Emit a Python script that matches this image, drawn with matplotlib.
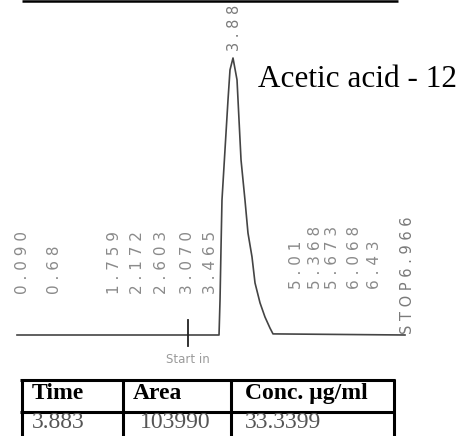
import matplotlib
matplotlib.use("Agg")
import matplotlib.pyplot as plt
import numpy as np

# chromatogram trace (time in min, detector response in % of main peak)
trace_time = [0.0, 3.627, 3.645, 3.662, 3.680, 3.734, 3.788, 3.824, 3.878,
              3.950, 3.986, 4.022, 4.093, 4.147, 4.219, 4.273, 4.363, 4.452,
              4.542, 4.596, 6.966]
trace_signal = [0.0, 0.0, 12.6, 30.7, 48.7, 66.8, 84.8, 95.7, 100.0,
                92.1, 77.6, 63.2, 48.7, 36.8, 28.2, 18.8, 11.6, 6.5,
                2.5, 0.4, 0.0]

peak_time = 3.878
peak_label = "3.88"
compound = "Acetic acid - 12"
start_time = 3.070
stop_time = 6.966
stop_label = "STOP6.966"

minor_times = [0.090, 0.682, 1.759, 2.172, 2.603, 3.070, 3.465,
               5.009, 5.368, 5.673, 6.068, 6.427]
minor_labels = ["0.090", "0.68", "1.759", "2.172", "2.603", "3.070", "3.465",
                "5.01", "5.368", "5.673", "6.068", "6.43"]

table_header = ["Time", "Area", "Conc. \u00b5g/ml"]
table_row = ["3.883", "103990", "33.3399"]

W, H = 463, 436
x0_px, px_per_min = 17, 55.7
y0_px, px_per_unit = 335, 2.77


def spaced(s):
    return " ".join(s)


fig = plt.figure(figsize=(W / 100, H / 100), dpi=100)
ax = fig.add_axes([0, 0, 1, 1])
ax.set_xlim(-x0_px / px_per_min, (W - x0_px) / px_per_min)
ax.set_ylim((y0_px - H) / px_per_unit, y0_px / px_per_unit)
ax.axis("off")

ax.plot(trace_time, trace_signal, color="#444444", lw=1.2, solid_joinstyle="round")

# start marker
ax.plot([start_time, start_time], [-4, 5.5], color="#222222", lw=1.3)
ax.text(start_time, -6.5, "Start in", fontsize=8.5, color="#9a9a9a",
        ha="center", va="top")

# peak + labels
ax.text(peak_time + 0.03, 102.5, spaced(peak_label), rotation=90, fontsize=10.5,
        color="#7a7a7a", ha="center", va="bottom")
for t, lab in zip(minor_times, minor_labels):
    base = 14.8 if t < peak_time else 16.5
    ax.text(t, base, spaced(lab), rotation=90, fontsize=11, color="#8a8a8a",
            ha="center", va="bottom")
ax.text(stop_time + 0.05, 0.5, spaced(stop_label), rotation=90, fontsize=10.5,
        color="#7a7a7a", ha="center", va="bottom")

# pixel overlay for the frame, compound name and result table
ov = fig.add_axes([0, 0, 1, 1])
ov.set_xlim(0, W)
ov.set_ylim(H, 0)
ov.axis("off")
ov.patch.set_alpha(0)

ov.plot([22, 398], [1, 1], color="black", lw=1.8, solid_capstyle="butt")
ov.text(258, 87, compound, fontsize=22.5, family="Liberation Serif",
        color="black", ha="left", va="baseline")

lw_tab = 2.2
ov.plot([20, 395], [379.5, 379.5], color="black", lw=lw_tab, solid_capstyle="butt")
ov.plot([20, 395], [411.5, 411.5], color="black", lw=lw_tab, solid_capstyle="butt")
for xv in [21.5, 122.5, 230.5, 393.5]:
    ov.plot([xv, xv], [378.5, H + 2], color="black", lw=lw_tab, solid_capstyle="butt")

col_x = [32, 133, 245]
row_x = [32, 140, 245]
for x, txt in zip(col_x, table_header):
    ov.text(x, 399, txt, fontsize=17, family="Liberation Serif", weight="bold",
            color="black", ha="left", va="baseline")
for x, txt in zip(row_x, table_row):
    ov.text(x, 428, txt, fontsize=17, family="Liberation Serif",
            color="#555555", ha="left", va="baseline")

fig.savefig("out.png", dpi=100)
